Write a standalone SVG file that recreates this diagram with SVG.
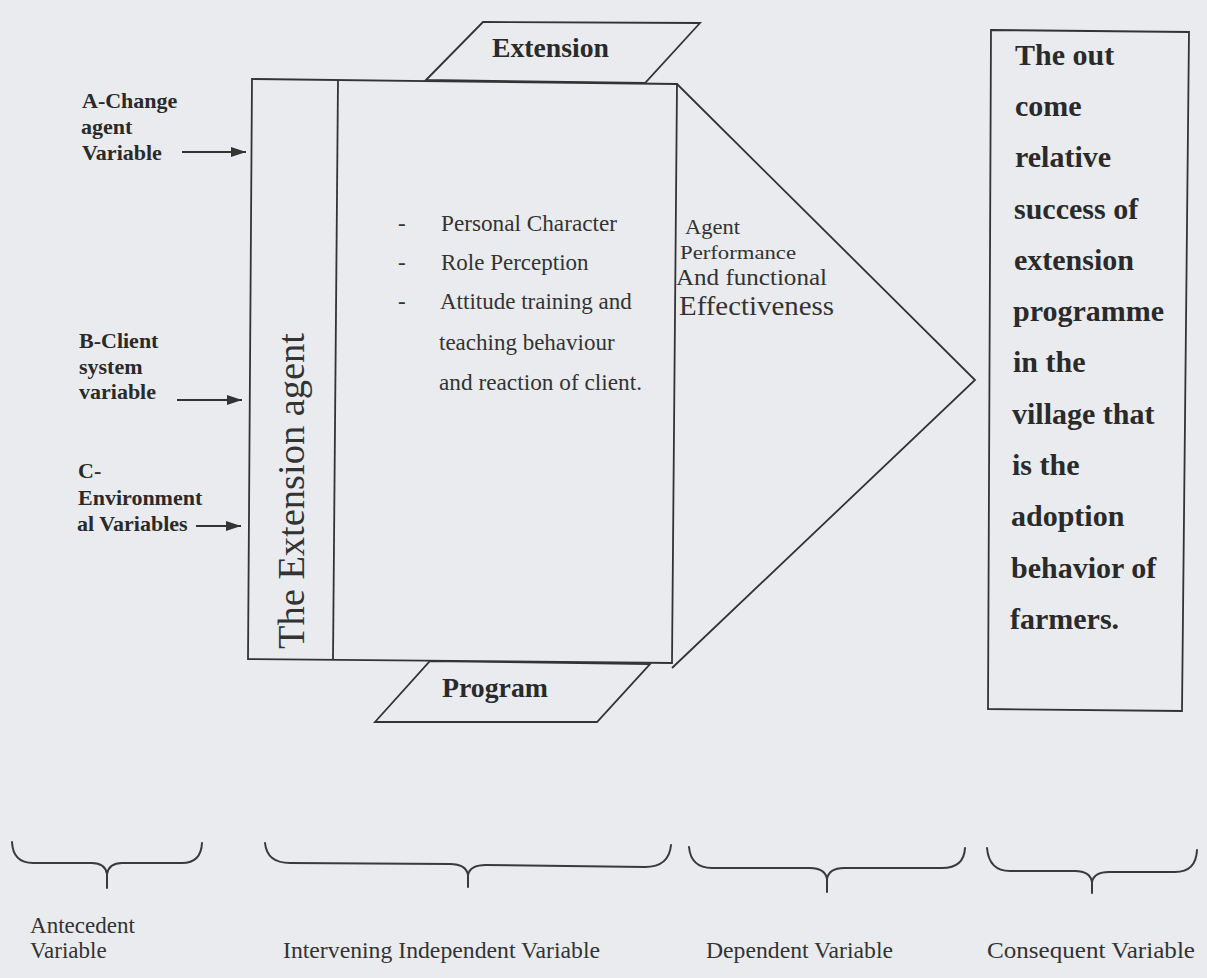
<svg xmlns="http://www.w3.org/2000/svg" width="1207" height="978" viewBox="0 0 1207 978">
<defs>
<style>
.bg{fill:#e9ebef}
.ln{fill:none;stroke:#333;stroke-width:1.8;stroke-linejoin:miter}
.sh{fill:#e9ebef;stroke:#333;stroke-width:1.8}
.br{fill:none;stroke:#3a3a3a;stroke-width:2;stroke-linecap:round}
.bold{font-family:"Liberation Serif","Times New Roman",serif;font-weight:bold;fill:#2a2a2a}
.reg{font-family:"Liberation Serif","Times New Roman",serif;fill:#333}
.lab{font-size:22px}
.box{font-size:30px}
.mid{font-size:23px}
.bot{font-size:23px}
</style>
<marker id="ah" viewBox="0 0 15 10" refX="15" refY="5" markerWidth="15" markerHeight="10" markerUnits="userSpaceOnUse" orient="auto">
<path d="M0,0 L15,5 L0,10 z" fill="#333"/>
</marker>
</defs>
<rect class="bg" x="0" y="0" width="1207" height="978"/>

<g id="triangle-dependent">
<polyline class="ln" points="677,84 975,380 672,668"/>
<text class="reg" x="685" y="234" font-size="21" textLength="55" lengthAdjust="spacingAndGlyphs">Agent</text>
<text class="reg" x="680" y="259" font-size="19" textLength="116" lengthAdjust="spacingAndGlyphs">Performance</text>
<text class="reg" x="676" y="285" font-size="23" textLength="151" lengthAdjust="spacingAndGlyphs">And functional</text>
<text class="reg" x="679" y="315" font-size="28" textLength="155" lengthAdjust="spacingAndGlyphs">Effectiveness</text>
</g>

<g id="extension-top">
<polygon class="sh" points="426,80 483,22 700,23 645,83"/>
<text class="bold" x="492" y="57" font-size="27" textLength="117" lengthAdjust="spacingAndGlyphs">Extension</text>
</g>

<g id="program-bottom">
<polygon class="sh" points="430,661 650,664 597,722 375,722"/>
<text class="bold" x="442" y="697" font-size="27" textLength="106" lengthAdjust="spacingAndGlyphs">Program</text>
</g>

<g id="extension-agent">
<polygon class="sh" points="252,79 677,84 672,663 248,659"/>
<line class="ln" x1="338" y1="80" x2="333" y2="660"/>
<text class="reg" transform="translate(304,649) rotate(-90)" x="0" y="0" font-size="38" textLength="316" lengthAdjust="spacingAndGlyphs">The Extension agent</text>
</g>

<g id="intervening-list">
<text class="reg mid" x="398" y="231">-</text>
<text class="reg mid" x="398" y="270">-</text>
<text class="reg mid" x="398" y="309">-</text>
<text class="reg mid" x="441" y="231" textLength="176" lengthAdjust="spacingAndGlyphs">Personal Character</text>
<text class="reg mid" x="441" y="270">Role Perception</text>
<text class="reg mid" x="440" y="309">Attitude training and</text>
<text class="reg mid" x="439" y="350">teaching behaviour</text>
<text class="reg mid" x="439" y="390" textLength="203" lengthAdjust="spacingAndGlyphs">and reaction of client.</text>
</g>

<g id="consequent-box">
<polygon class="sh" points="991,30 1189,32 1182,711 988,709"/>
<text class="bold box" x="1015" y="65">The out</text>
<text class="bold box" x="1015" y="116">come</text>
<text class="bold box" x="1015" y="167">relative</text>
<text class="bold box" x="1014" y="219">success of</text>
<text class="bold box" x="1014" y="270">extension</text>
<text class="bold box" x="1013" y="321">programme</text>
<text class="bold box" x="1013" y="372">in the</text>
<text class="bold box" x="1012" y="424">village that</text>
<text class="bold box" x="1012" y="475">is the</text>
<text class="bold box" x="1011" y="526">adoption</text>
<text class="bold box" x="1011" y="578">behavior of</text>
<text class="bold box" x="1010" y="629">farmers.</text>
</g>

<g id="antecedent-a">
<text class="bold lab" x="82" y="108">A-Change</text>
<text class="bold lab" x="81" y="134">agent</text>
<text class="bold lab" x="82" y="160">Variable</text>
</g>
<g id="antecedent-b">
<text class="bold lab" x="79" y="348">B-Client</text>
<text class="bold lab" x="79" y="374">system</text>
<text class="bold lab" x="79" y="399">variable</text>
</g>
<g id="antecedent-c">
<text class="bold lab" x="78" y="478">C-</text>
<text class="bold lab" x="78" y="505">Environment</text>
<text class="bold lab" x="77" y="531">al Variables</text>
</g>

<g id="connectors">
<line class="ln" x1="182" y1="152" x2="246" y2="152" marker-end="url(#ah)"/>
<line class="ln" x1="177" y1="400" x2="242" y2="400" marker-end="url(#ah)"/>
<line class="ln" x1="196" y1="526" x2="241" y2="526" marker-end="url(#ah)"/>
</g>

<g id="braces">
<path class="br" d="M12,842 Q13,863 33,863 L92,863 Q105,863 107,874 L107,888 M107,874 Q109,863 122,863 L182,863 Q201,863 202,843"/>
<path class="br" d="M265,843 Q267,863 290,863 L450,864 Q466,864 468,875 L468,887 M468,875 Q470,865 486,865 L645,867 Q669,867 671,845"/>
<path class="br" d="M689,847 Q691,868 712,868 L810,868 Q825,868 827,879 L827,892 M827,879 Q829,868 844,868 L942,868 Q964,868 965,848"/>
<path class="br" d="M987,848 Q989,871 1010,871 L1075,871 Q1090,871 1092,882 L1092,893 M1092,882 Q1094,872 1109,872 L1175,872 Q1196,872 1197,850"/>
</g>

<g id="labels-bottom">
<text class="reg bot" x="30" y="933" textLength="105" lengthAdjust="spacingAndGlyphs">Antecedent</text>
<text class="reg bot" x="30" y="958">Variable</text>
<text class="reg bot" x="283" y="958" textLength="317" lengthAdjust="spacingAndGlyphs">Intervening Independent Variable</text>
<text class="reg bot" x="706" y="958" textLength="187" lengthAdjust="spacingAndGlyphs">Dependent Variable</text>
<text class="reg bot" x="987" y="958" textLength="208" lengthAdjust="spacingAndGlyphs">Consequent Variable</text>
</g>
</svg>
